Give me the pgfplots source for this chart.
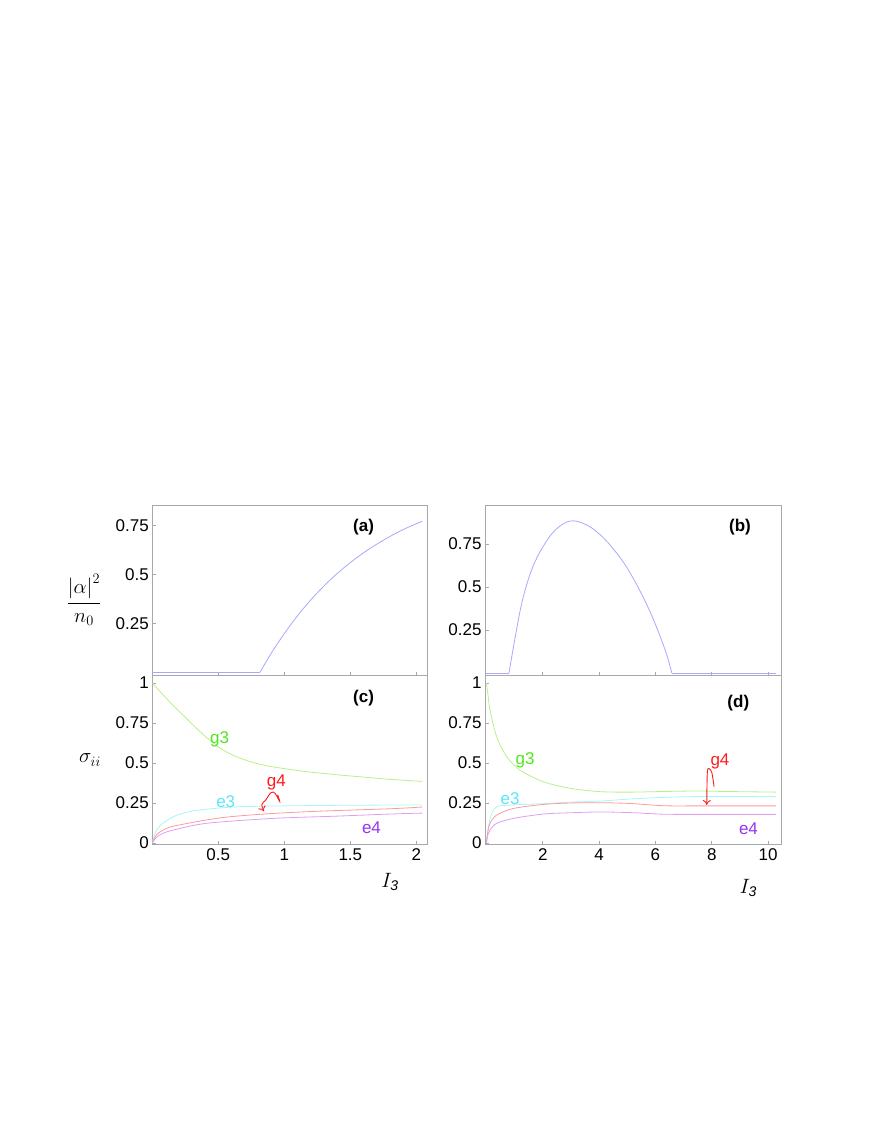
\documentclass[border=0pt]{standalone}
\usepackage{pgfplots}
\pgfplotsset{compat=1.18}
\usetikzlibrary{arrows.meta}
\usepackage{fontspec}
\setmainfont{Liberation Sans}
\definecolor{framegray}{HTML}{A8A8A8}
\definecolor{bluel}{HTML}{A8A8FF}
\definecolor{g3l}{HTML}{B8F08A}
\definecolor{e3l}{HTML}{A8F6F6}
\definecolor{g4l}{HTML}{FF9A9A}
\definecolor{e4l}{HTML}{DDA0F0}
\definecolor{g3t}{HTML}{50E61E}
\definecolor{e3t}{HTML}{5AE6FA}
\definecolor{g4t}{HTML}{FF1A1A}
\definecolor{e4t}{HTML}{9933EE}
\newcommand{\lbl}{\fontsize{17}{20}\selectfont}

\pgfplotsset{
  panel/.style={
    scale only axis, anchor=south west,
    axis line style={framegray, line width=1pt},
    tick style={framegray, line width=0.8pt},
    major tick length=4pt, tick align=inside,
    xtick pos=bottom, ytick pos=left,
    ticklabel style={font=\lbl},
    /pgf/number format/assume math mode=true,
    every axis plot/.append style={line width=0.8pt},
  },
}

\begin{document}
\begin{tikzpicture}[x=1pt,y=1pt]
\path[use as bounding box] (0,0) rectangle (872,1128);

% (a)
\begin{axis}[panel, at={(152.3pt,452pt)}, width=275pt, height=170.3pt,
  xmin=0, xmax=2.083, ymin=-0.019, ymax=0.85,
  xtick={0.5,1,1.5,2}, xticklabels={},
  ytick={0.25,0.5,0.75}]
\addplot[bluel] coordinates {(0,0) (0.816,0)};
\addplot[bluel, smooth] coordinates {(0.816,0) (0.866,0.058) (0.916,0.113) (1.016,0.213) (1.116,0.302) (1.216,0.381) (1.316,0.451) (1.416,0.513) (1.516,0.568) (1.616,0.617) (1.716,0.660) (1.816,0.699) (1.916,0.733) (2.046,0.771)};
\node[font=\lbl\bfseries] at (axis cs:1.6,0.743) {(a)};
\end{axis}

% (b)
\begin{axis}[panel, at={(485pt,452pt)}, width=296.7pt, height=170.3pt,
  xmin=-0.05, xmax=10.48, ymin=-0.017, ymax=0.973,
  xtick={2,4,6,8,10}, xticklabels={},
  ytick={0.25,0.5,0.75}]
\addplot[bluel] coordinates {(0,0) (0.80,0)};
\addplot[bluel, smooth] coordinates {(0.80,0) (0.9,0.095) (1.0,0.19) (1.1,0.28) (1.2,0.365) (1.3,0.437) (1.4,0.498) (1.5,0.551) (1.6,0.598) (1.7,0.638) (1.8,0.673) (1.9,0.704) (2.02,0.738) (2.25,0.795) (2.5,0.840) (2.75,0.870) (2.97,0.884) (3.2,0.883) (3.44,0.870) (3.7,0.848) (3.91,0.822) (4.15,0.787) (4.39,0.744) (4.62,0.698) (4.86,0.645) (5.1,0.582) (5.34,0.512) (5.58,0.436) (5.81,0.356) (6.05,0.262) (6.28,0.163) (6.45,0.080) (6.58,0)};
\addplot[bluel] coordinates {(6.58,0) (10.27,0)};
\node[font=\lbl\bfseries] at (axis cs:9.0,0.85) {(b)};
\end{axis}

% (c)
\begin{axis}[panel, at={(152.3pt,283pt)}, width=275pt, height=169pt,
  xmin=0, xmax=2.083, ymin=-0.0125, ymax=1.044,
  xtick={0.5,1,1.5,2},
  ytick={0,0.25,0.5,0.75,1}]
\addplot[g3l, smooth] coordinates {(0,1) (0.05,0.955) (0.1,0.91) (0.16,0.858) (0.22,0.81) (0.285,0.757) (0.35,0.705) (0.41,0.66) (0.475,0.617) (0.54,0.58) (0.62,0.545) (0.7,0.52) (0.79,0.497) (0.9,0.478) (1.04,0.46) (1.2,0.443) (1.42,0.425) (1.6,0.412) (1.8,0.398) (2.046,0.385)};
\addplot[e3l, smooth] coordinates {(0,0) (0.02,0.06) (0.06,0.11) (0.16,0.165) (0.3,0.2) (0.5,0.218) (0.67,0.227) (1.0,0.232) (1.5,0.236) (2.046,0.238)};
\addplot[g4l, smooth] coordinates {(0,0) (0.03,0.05) (0.08,0.08) (0.16,0.105) (0.41,0.144) (0.6,0.165) (0.92,0.185) (1.3,0.2) (1.8,0.214) (2.046,0.225)};
\addplot[e4l, smooth] coordinates {(0,0) (0.03,0.035) (0.08,0.06) (0.16,0.081) (0.41,0.123) (0.92,0.154) (1.4,0.168) (1.8,0.181) (2.046,0.187)};
\node[font=\lbl\bfseries] at (axis cs:1.6,0.906) {(c)};
\node[font=\lbl, text=g3t] at (axis cs:0.51,0.65) {g3};
\node[font=\lbl, text=e3t] at (axis cs:0.556,0.26) {e3};
\node[font=\lbl, text=g4t] at (axis cs:0.94,0.376) {g4};
\node[font=\lbl, text=e4t] at (axis cs:1.66,0.094) {e4};
\draw[g4t, line width=0.9pt, -{To[length=5pt,width=8pt]}] plot[smooth, tension=0.6] coordinates {(axis cs:0.95,0.30) (axis cs:0.965,0.26) (axis cs:0.93,0.31) (axis cs:0.9,0.315) (axis cs:0.86,0.27) (axis cs:0.83,0.24) (axis cs:0.846,0.198)};
\end{axis}

% (d)
\begin{axis}[panel, at={(485pt,283pt)}, width=296.7pt, height=169pt,
  xmin=-0.05, xmax=10.48, ymin=-0.0125, ymax=1.044,
  xtick={2,4,6,8,10},
  ytick={0,0.25,0.5,0.75,1}]
\addplot[g3l, smooth] coordinates {(0,1) (0.06,0.92) (0.128,0.83) (0.365,0.664) (0.72,0.54) (1.19,0.456) (2.02,0.383) (2.97,0.342) (4.03,0.321) (5.1,0.318) (6.28,0.322) (7.46,0.325) (8.5,0.322) (10.27,0.318)};
\addplot[e3l, smooth] coordinates {(0,0) (0.07,0.10) (0.19,0.186) (0.365,0.227) (0.84,0.237) (2.02,0.246) (2.97,0.255) (4.03,0.262) (5.1,0.275) (6.28,0.285) (7.46,0.29) (10.27,0.29)};
\addplot[g4l, smooth] coordinates {(0,0) (0.05,0.07) (0.128,0.123) (0.365,0.175) (0.96,0.216) (2.02,0.241) (2.97,0.250) (4.03,0.252) (5.1,0.247) (6.28,0.233) (7.46,0.232) (10.27,0.232)};
\addplot[e4l, smooth] coordinates {(0,0) (0.05,0.05) (0.128,0.081) (0.365,0.123) (0.96,0.154) (2.02,0.181) (2.97,0.189) (4.03,0.194) (5.1,0.19) (6.28,0.18) (7.46,0.179) (10.27,0.179)};
\node[font=\lbl\bfseries] at (axis cs:8.94,0.873) {(d)};
\node[font=\lbl, text=g3t] at (axis cs:1.37,0.514) {g3};
\node[font=\lbl, text=e3t] at (axis cs:0.84,0.28) {e3};
\node[font=\lbl, text=g4t] at (axis cs:8.29,0.508) {g4};
\node[font=\lbl, text=e4t] at (axis cs:9.3,0.092) {e4};
\draw[g4t, line width=0.9pt, -{To[length=5pt,width=8pt]}] plot[smooth, tension=0.5] coordinates {(axis cs:8.08,0.352) (axis cs:8.0,0.44) (axis cs:7.9,0.465) (axis cs:7.84,0.44) (axis cs:7.82,0.238)};
\end{axis}

% axis titles
\node at (84,528) {\fontsize{20}{24}\selectfont$\displaystyle\frac{\left|\alpha\right|^{2}}{n_{0}}$};
\node at (90,368) {\fontsize{22}{26}\selectfont$\sigma_{ii}$};
\node at (390,246.3) {\fontsize{20}{24}\selectfont$I_{\mathit{3}}$};
\node at (748.3,239.7) {\fontsize{20}{24}\selectfont$I_{\mathit{3}}$};
\end{tikzpicture}
\end{document}
